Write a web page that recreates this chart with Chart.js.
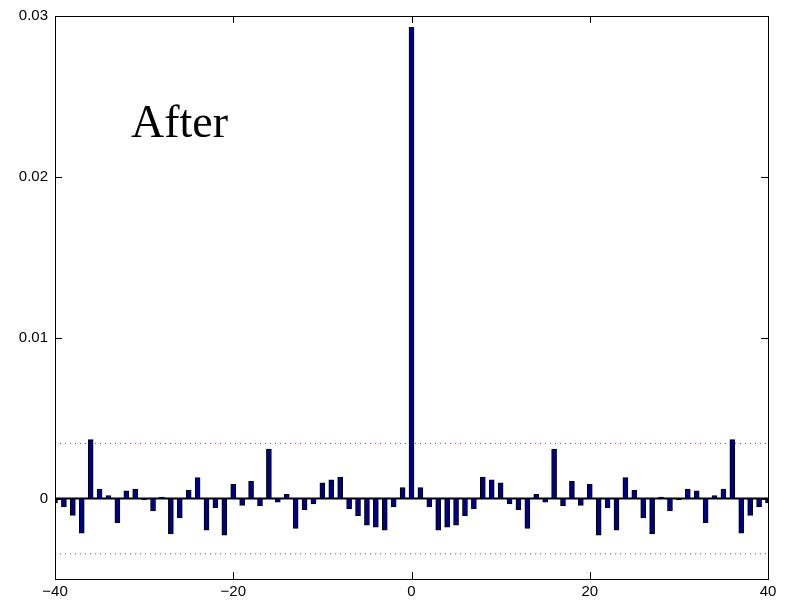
<!DOCTYPE html>
<html>
<head>
<meta charset="utf-8">
<script src="https://cdn.jsdelivr.net/npm/chart.js@4.4.1/dist/chart.umd.min.js"></script>
<style>
  html, body { margin: 0; padding: 0; background: #fff; }
  canvas { display: block; }
</style>
</head>
<body>
<canvas id="acf" width="785" height="601"></canvas>
<script>
var lags = [
  -40, -39, -38, -37, -36, -35, -34, -33, -32, -31, -30, -29, -28, -27, -26, -25, -24, -23, -22, -21,
  -20, -19, -18, -17, -16, -15, -14, -13, -12, -11, -10, -9, -8, -7, -6, -5, -4, -3, -2, -1,
  0,
  1, 2, 3, 4, 5, 6, 7, 8, 9, 10, 11, 12, 13, 14, 15, 16, 17, 18, 19, 20,
  21, 22, 23, 24, 25, 26, 27, 28, 29, 30, 31, 32, 33, 34, 35, 36, 37, 38, 39, 40
];

var values = [
  -0.00027, -0.00052, -0.00105, -0.00215, 0.00366, 0.00059, 0.00019, -0.0015, 0.00048, 0.00059,
  -0.00008, -0.00077, 0.0001, -0.0022, -0.0012, 0.00052, 0.0013, -0.00196, -0.00056, -0.00228,
  0.00088, -0.00042, 0.00107, -0.00046, 0.00307, -0.00023, 0.00027, -0.00186, -0.00069, -0.00033,
  0.00098, 0.00117, 0.00134, -0.00065, -0.00107, -0.00165, -0.00178, -0.00196, -0.00052, 0.00069,
  0.0293,
  0.00069, -0.00052, -0.00196, -0.00178, -0.00165, -0.00107, -0.00065, 0.00134, 0.00117, 0.00098,
  -0.00033, -0.00069, -0.00186, 0.00027, -0.00023, 0.00307, -0.00046, 0.00107, -0.00042, 0.00088,
  -0.00228, -0.00056, -0.00196, 0.0013, 0.00052, -0.0012, -0.0022, 0.0001, -0.00077, -0.00008,
  0.00059, 0.00048, -0.0015, 0.00019, 0.00059, 0.00366, -0.00215, -0.00105, -0.00052, -0.00027
];

var bound = 0.00343;          // confidence level (dotted lines)
var xTicks = [-40, -20, 0, 20, 40];
var yTicks = [0, 0.01, 0.02, 0.03];
var xRange = [-40, 40];
var yRange = [-0.005, 0.03];

var barData = lags.map(function (l, i) { return { x: l, y: values[i] }; });

// frame + inward ticks on all four sides, plus the title text
var framePlugin = {
  id: "frame",
  afterDraw: function (chart) {
    var ctx = chart.ctx, a = chart.chartArea;
    var sx = chart.scales.x, sy = chart.scales.y;
    ctx.save();
    ctx.strokeStyle = "#000";
    ctx.lineWidth = 1;
    ctx.beginPath();
    xTicks.forEach(function (t) {
      var px = Math.round(sx.getPixelForValue(t)) + 0.5;
      ctx.moveTo(px, a.bottom); ctx.lineTo(px, a.bottom - 7);
      ctx.moveTo(px, a.top); ctx.lineTo(px, a.top + 7);
    });
    yTicks.forEach(function (t) {
      var py = Math.round(sy.getPixelForValue(t)) + 0.5;
      ctx.moveTo(a.left, py); ctx.lineTo(a.left + 7, py);
      ctx.moveTo(a.right, py); ctx.lineTo(a.right - 7, py);
    });
    ctx.stroke();
    ctx.strokeRect(Math.round(a.left) + 0.5, Math.round(a.top) + 0.5,
                   Math.round(a.right - a.left), Math.round(a.bottom - a.top));
    ctx.fillStyle = "#000";
    ctx.font = "46px 'Liberation Serif', 'Times New Roman', serif";
    ctx.textBaseline = "alphabetic";
    ctx.fillText("After", 131, 137);
    ctx.restore();
  }
};

var ctx = document.getElementById("acf").getContext("2d");
var chart = new Chart(ctx, {
  type: "bar",
  data: {
    datasets: [
      {
        type: "line",
        data: [{ x: xRange[0], y: bound }, { x: xRange[1], y: bound }],
        borderColor: "#4a4aff",
        borderWidth: 1,
        borderDash: [1, 4],
        pointRadius: 0,
        fill: false,
        order: 3
      },
      {
        type: "line",
        data: [{ x: xRange[0], y: -bound }, { x: xRange[1], y: -bound }],
        borderColor: "#4a4aff",
        borderWidth: 1,
        borderDash: [1, 4],
        pointRadius: 0,
        fill: false,
        order: 3
      },
      {
        type: "line",
        data: [{ x: xRange[0], y: 0 }, { x: xRange[1], y: 0 }],
        borderColor: "#000",
        borderWidth: 2,
        pointRadius: 0,
        fill: false,
        order: 2
      },
      {
        label: "acf",
        data: barData,
        backgroundColor: "#000080",
        borderColor: "#000",
        borderWidth: 1,
        barThickness: 5,
        order: 1
      }
    ]
  },
  options: {
    responsive: false,
    animation: false,
    devicePixelRatio: 1,
    layout: { padding: { top: 16, right: 17, left: 0, bottom: 0 } },
    plugins: { legend: { display: false }, tooltip: { enabled: false } },
    scales: {
      x: {
        type: "linear",
        min: xRange[0],
        max: xRange[1],
        offset: false,
        grid: { display: false, drawTicks: false },
        border: { display: false },
        afterBuildTicks: function (s) { s.ticks = xTicks.map(function (v) { return { value: v }; }); },
        afterFit: function (s) { s.height = 22; },
        ticks: {
          padding: 4,
          color: "#000",
          font: { family: "'Liberation Sans', Arial, sans-serif", size: 15 },
          maxRotation: 0,
          callback: function (v) { return v < 0 ? "\u2212" + Math.abs(v) : String(v); }
        }
      },
      y: {
        min: yRange[0],
        max: yRange[1],
        grid: { display: false, drawTicks: false },
        border: { display: false },
        afterBuildTicks: function (s) { s.ticks = yTicks.map(function (v) { return { value: v }; }); },
        afterFit: function (s) { s.width = 55; },
        ticks: {
          padding: 7,
          color: "#000",
          font: { family: "'Liberation Sans', Arial, sans-serif", size: 15 },
          callback: function (v) { return v === 0 ? "0" : String(Math.round(v * 100) / 100); }
        }
      }
    }
  },
  plugins: [framePlugin]
});
</script>
</body>
</html>
